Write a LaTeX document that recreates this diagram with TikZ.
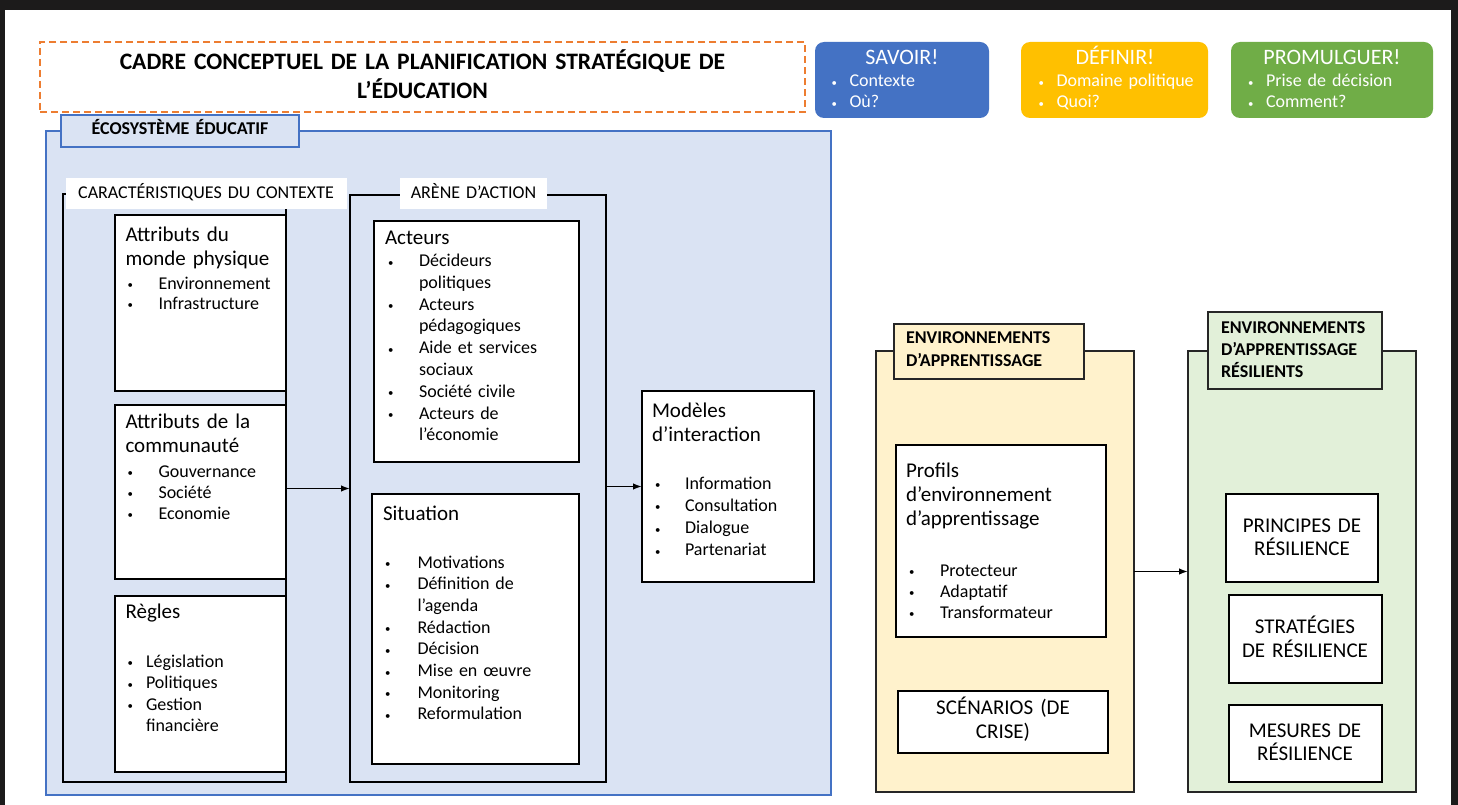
\documentclass[tikz,border=0pt]{standalone}
\usepackage{fontspec}
\setmainfont{Carlito}
\usetikzlibrary{fit,arrows.meta}
\definecolor{bgdark}{HTML}{1C1B1B}
\definecolor{ecofill}{HTML}{DAE3F3}
\definecolor{ecoline}{HTML}{4472C4}
\definecolor{savoirc}{HTML}{4472C4}
\definecolor{definirc}{HTML}{FFC000}
\definecolor{promulc}{HTML}{70AD47}
\definecolor{titledash}{HTML}{ED7D31}
\definecolor{envfill}{HTML}{FFF2CC}
\definecolor{resfill}{HTML}{E2F0D9}
\definecolor{framec}{HTML}{262626}
\newcommand\smbul{\raisebox{0.4pt}{\scalebox{0.6}{\textbullet}}}
\newcommand\itm[2]{\makebox[#1][l]{\smbul}#2}
\newcommand\cnt[2]{\hspace*{#1}#2}
\begin{document}
\begin{tikzpicture}[x=1pt,y=-1pt,
  every node/.style={inner sep=0pt,outer sep=0pt},
  inbox/.style={draw=black,line width=1.8pt,fill=white},
  ctxframe/.style={draw=black,line width=1.6pt},
  envframe/.style={draw=framec,line width=1.4pt},
  whitelab/.style={fill=white},
  txt/.style={anchor=base west,align=left,text width=260pt},
  ctxt/.style={anchor=base,align=center,text width=260pt},
  arr/.style={line width=1.5pt,-{Latex[length=9pt,width=6.5pt]}},
  colbox/.style={rounded corners=9pt},
]
\useasboundingbox (0,0) rectangle (1458,805);
\fill[bgdark] (0,0) rectangle (1458,805);
\fill[white] (5,10) rectangle (1451,805);

% title
\node[fit={(40,42)(805,112)}, draw=titledash, line width=1.3pt, dash pattern=on 7pt off 4pt] (title) {};
\node[ctxt, text width=760pt, font=\bfseries\fontsize{23.6}{29}\selectfont] (titletxt) at (422.5,70) {CADRE CONCEPTUEL DE LA PLANIFICATION STRATÉGIQUE DE\\L’ÉDUCATION};

% coloured boxes
\node[fit={(815,42)(989,118)}, fill=savoirc, colbox] (savoir) {};
\node[ctxt, white, font=\fontsize{22}{26}\selectfont] (savoirt) at (902,65) {SAVOIR!};
\node[txt, white, font=\fontsize{18}{21}\selectfont] (savoirl) at (831.5,87) {\itm{18pt}{Contexte}\\\itm{18pt}{Où?}};

\node[fit={(1021,42)(1208,118)}, fill=definirc, colbox] (definir) {};
\node[ctxt, white, font=\fontsize{22}{26}\selectfont] (definirt) at (1115,65) {DÉFINIR!};
\node[txt, white, font=\fontsize{18}{21}\selectfont] (definirl) at (1038.5,87) {\itm{18pt}{Domaine politique}\\\itm{18pt}{Quoi?}};

\node[fit={(1231,42)(1433,118)}, fill=promulc, colbox] (promul) {};
\node[ctxt, white, font=\fontsize{22}{26}\selectfont] (promult) at (1332,65) {PROMULGUER!};
\node[txt, white, font=\fontsize{18}{21}\selectfont] (promull) at (1248,87) {\itm{18pt}{Prise de décision}\\\itm{18pt}{Comment?}};

% ecosystem
\node[fit={(46,131)(831,795)}, fill=ecofill, draw=ecoline, line width=1.5pt] (eco) {};
\node[fit={(61,115)(299,147)}, fill=ecofill, draw=ecoline, line width=1.5pt] (ecolab) {};
\node[ctxt, font=\bfseries\fontsize{18}{20}\selectfont] (ecot) at (180,135) {ÉCOSYSTÈME ÉDUCATIF};

% context frame
\node[fit={(63,194)(286,782)}, ctxframe] (ctx) {};
\node[fit={(66,178)(347,209)}, whitelab] (ctxlab) {};
\node[ctxt, font=\fontsize{18}{20}\selectfont] (ctxt) at (206,199) {CARACTÉRISTIQUES DU CONTEXTE};

% arena frame
\node[fit={(350,195)(606,782)}, ctxframe] (arena) {};
\node[fit={(400,178)(547,209)}, whitelab] (arenalab) {};
\node[ctxt, font=\fontsize{18}{20}\selectfont] (arenat) at (473.5,199) {ARÈNE D’ACTION};

% context inner boxes
\node[fit={(115,215)(286,391)}, inbox] (phys) {};
\node[txt, font=\fontsize{21}{24}\selectfont] (physt) at (125.5,241) {Attributs du\\monde physique};
\node[txt, font=\fontsize{18}{20}\selectfont] (physl) at (127.5,289) {\itm{31pt}{Environnement}\\\itm{31pt}{Infrastructure}};

\node[fit={(115,405)(286,579)}, inbox] (comm) {};
\node[txt, font=\fontsize{21}{24}\selectfont] (commt) at (125.5,428) {Attributs de la\\communauté};
\node[txt, font=\fontsize{18}{21}\selectfont] (comml) at (127.5,477) {\itm{31pt}{Gouvernance}\\\itm{31pt}{Société}\\\itm{31pt}{Economie}};

\node[fit={(115,596)(286,772)}, inbox] (regles) {};
\node[txt, font=\fontsize{21}{24}\selectfont] (reglest) at (125.5,618) {Règles};
\node[txt, font=\fontsize{18}{21.5}\selectfont] (reglesl) at (127.5,667) {\itm{18.5pt}{Législation}\\\itm{18.5pt}{Politiques}\\\itm{18.5pt}{Gestion}\\\cnt{18.5pt}{financière}};

% arena inner boxes
\node[fit={(374,221)(579,462)}, inbox] (acteurs) {};
\node[txt, font=\fontsize{21}{24}\selectfont] (acteurst) at (385,244) {Acteurs};
\node[txt, font=\fontsize{18}{21.8}\selectfont] (acteursl) at (388,266.5) {\itm{31pt}{Décideurs}\\\cnt{31pt}{politiques}\\\itm{31pt}{Acteurs}\\\cnt{31pt}{pédagogiques}\\\itm{31pt}{Aide et services}\\\cnt{31pt}{sociaux}\\\itm{31pt}{Société civile}\\\itm{31pt}{Acteurs de}\\\cnt{31pt}{l’économie}};

\node[fit={(372,494)(579,764)}, inbox] (situation) {};
\node[txt, font=\fontsize{21}{24}\selectfont] (situationt) at (383,520) {Situation};
\node[txt, font=\fontsize{18}{21.7}\selectfont] (situationl) at (385,568) {\itm{32.5pt}{Motivations}\\\itm{32.5pt}{Définition de}\\\cnt{32.5pt}{l’agenda}\\\itm{32.5pt}{Rédaction}\\\itm{32.5pt}{Décision}\\\itm{32.5pt}{Mise en œuvre}\\\itm{32.5pt}{Monitoring}\\\itm{32.5pt}{Reformulation}};

\node[fit={(642,391)(814,582)}, inbox] (modeles) {};
\node[txt, font=\fontsize{21}{24}\selectfont] (modelest) at (652,417) {Modèles\\d’interaction};
\node[txt, font=\fontsize{18}{22.3}\selectfont] (modelesl) at (655,489) {\itm{30pt}{Information}\\\itm{30pt}{Consultation}\\\itm{30pt}{Dialogue}\\\itm{30pt}{Partenariat}};

% arrows left part
\draw[arr] (arena.west -| comm.east) -- (arena.west);
\draw[arr] (arena.east |- modeles.west) -- (modeles.west);

% learning environments
\node[fit={(876,351)(1134,792)}, fill=envfill, envframe] (env) {};
\node[fit={(894,324)(1084,379)}, fill=envfill, envframe] (envlab) {};
\node[txt, font=\bfseries\fontsize{18}{23}\selectfont] (envt) at (906,343) {ENVIRONNEMENTS\\D’APPRENTISSAGE};

\node[fit={(896,445)(1106,637)}, inbox] (profils) {};
\node[txt, font=\fontsize{21}{24}\selectfont] (profilst) at (906,477) {Profils\\d’environnement\\d’apprentissage};
\node[txt, font=\fontsize{18}{21}\selectfont] (profilsl) at (909,576) {\itm{31pt}{Protecteur}\\\itm{31pt}{Adaptatif}\\\itm{31pt}{Transformateur}};

\node[fit={(898,691)(1108,753)}, inbox] (scen) {};
\node[ctxt, font=\fontsize{21}{24}\selectfont] (scent) at (1003,714) {SCÉNARIOS (DE\\CRISE)};

% resilient environments
\node[fit={(1188,351)(1416,792)}, fill=resfill, envframe] (res) {};
\node[fit={(1208,312)(1382,389)}, fill=resfill, envframe] (reslab) {};
\node[txt, font=\bfseries\fontsize{18}{22}\selectfont] (rest) at (1221,333) {ENVIRONNEMENTS\\D’APPRENTISSAGE\\RÉSILIENTS};

\node[fit={(1226,494)(1378,582)}, inbox] (princ) {};
\node[ctxt, font=\fontsize{21}{23}\selectfont] (princt) at (1302,532) {PRINCIPES DE\\RÉSILIENCE};
\node[fit={(1229,595)(1382,683)}, inbox] (strat) {};
\node[ctxt, font=\fontsize{21}{24}\selectfont] (stratt) at (1305,633) {STRATÉGIES\\DE RÉSILIENCE};
\node[fit={(1229,705)(1382,782)}, inbox] (mes) {};
\node[ctxt, font=\fontsize{21}{23}\selectfont] (mest) at (1305,737) {MESURES DE\\RÉSILIENCE};

\draw[arr] (env.east) -- (res.west);
\end{tikzpicture}
\end{document}
